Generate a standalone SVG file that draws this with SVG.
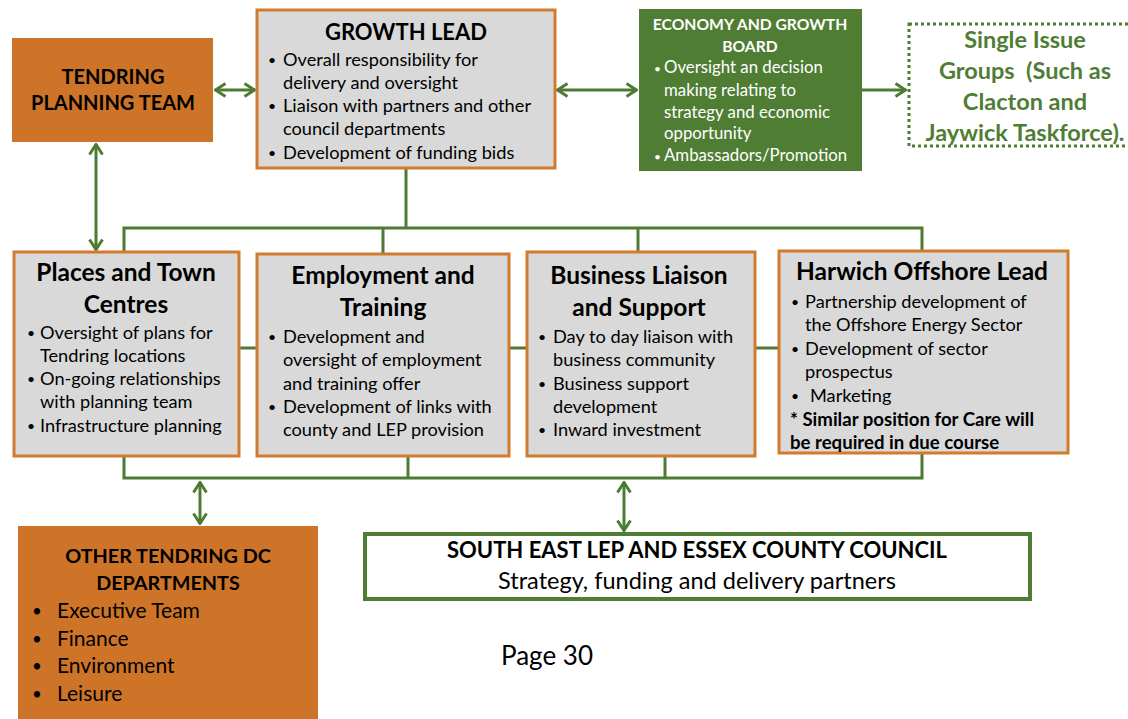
<svg xmlns="http://www.w3.org/2000/svg" width="1128" height="719" viewBox="0 0 1128 719">
  <defs>
    <style>
      text { font-family: Lato, "Open Sans", "Liberation Sans", sans-serif; fill: #000; }
      .hd { font-weight: bold; font-size: 24.5px; text-anchor: middle; }
      .b { font-size: 18.2px; }
      .dot { font-size: 14px; }
      .orange { fill: #CD7428; }
      .grey { fill: #D9D9D9; stroke: #D27A2D; stroke-width: 3; }
      .link { fill: none; stroke: #4E7B33; stroke-width: 3; }
      .wt { fill: #FFFFFF; }
      .gt { fill: #4F7D34; }
    </style>
    <marker id="arr" viewBox="0 0 13 16" refX="12" refY="8" markerWidth="13" markerHeight="16" markerUnits="userSpaceOnUse" orient="auto-start-reverse">
      <path d="M1.5,1.5 L11.5,8 L1.5,14.5" fill="none" stroke="#4E7B33" stroke-width="3" stroke-linejoin="miter"/>
    </marker>
  </defs>

  <!-- connectors -->
  <g id="connectors" class="link">
    <line x1="215" y1="90" x2="255" y2="90" marker-start="url(#arr)" marker-end="url(#arr)"/>
    <line x1="557" y1="90" x2="637" y2="90" marker-start="url(#arr)" marker-end="url(#arr)"/>
    <line x1="862" y1="90" x2="906" y2="90" marker-end="url(#arr)"/>
    <line x1="96" y1="144" x2="96" y2="250" marker-start="url(#arr)" marker-end="url(#arr)"/>
    <!-- upper bus -->
    <line x1="406" y1="168" x2="406" y2="228"/>
    <polyline points="124,252 124,228 922,228 922,250"/>
    <line x1="383" y1="228" x2="383" y2="253"/>
    <line x1="638" y1="228" x2="638" y2="252"/>
    <!-- side links -->
    <line x1="239" y1="348" x2="257" y2="348"/>
    <line x1="509" y1="348" x2="527" y2="348"/>
    <line x1="755" y1="348" x2="779" y2="348"/>
    <!-- lower bus -->
    <polyline points="124,456 124,478 922,478 922,453"/>
    <line x1="408" y1="456" x2="408" y2="478"/>
    <line x1="665" y1="456" x2="665" y2="478"/>
    <line x1="200" y1="482" x2="200" y2="524" marker-start="url(#arr)" marker-end="url(#arr)"/>
    <line x1="624" y1="482" x2="624" y2="531" marker-start="url(#arr)" marker-end="url(#arr)"/>
  </g>

  <!-- Tendring planning team -->
  <g id="tendring-planning">
    <rect x="12" y="38" width="201" height="104" class="orange"/>
    <text class="hd" x="113" y="84" style="font-size:20px">TENDRING</text>
    <text class="hd" x="113" y="110" style="font-size:20px">PLANNING TEAM</text>
  </g>

  <!-- Growth lead -->
  <g id="growth-lead">
    <rect x="257" y="10" width="298" height="158" class="grey"/>
    <text class="hd" x="406" y="40" style="font-size:22px">GROWTH LEAD</text>
    <text class="dot" x="268" y="65">•</text><text class="b" x="283" y="66">Overall responsibility for</text>
    <text class="b" x="283" y="89">delivery and oversight</text>
    <text class="dot" x="268" y="111">•</text><text class="b" x="283" y="112">Liaison with partners and other</text>
    <text class="b" x="283" y="135">council departments</text>
    <text class="dot" x="268" y="158">•</text><text class="b" x="283" y="159">Development of funding bids</text>
  </g>

  <!-- Economy and growth board -->
  <g id="economy-board">
    <rect x="639" y="9" width="223" height="162" fill="#4F7D34"/>
    <text class="hd wt" x="750" y="30" style="font-size:15.7px">ECONOMY AND GROWTH</text>
    <text class="hd wt" x="750" y="52" style="font-size:15.7px">BOARD</text>
    <g style="font-size:16.8px">
      <text class="wt" x="654" y="73" style="font-size:12px">•</text><text class="wt" x="664" y="73">Oversight an decision</text>
      <text class="wt" x="664" y="96">making relating to</text>
      <text class="wt" x="664" y="118">strategy and economic</text>
      <text class="wt" x="664" y="139">opportunity</text>
      <text class="wt" x="654" y="161" style="font-size:12px">•</text><text class="wt" x="664" y="161">Ambassadors/Promotion</text>
    </g>
  </g>

  <!-- Single issue groups -->
  <g id="single-issue">
    <rect x="909" y="24" width="230" height="122" fill="#FFFFFF" stroke="#4F7D34" stroke-width="3" stroke-dasharray="3 3"/>
    <g class="hd" style="font-size:23.5px">
      <text class="gt" x="1025" y="48">Single Issue</text>
      <text class="gt" x="1025" y="79">Groups &#160;(Such as</text>
      <text class="gt" x="1025" y="110">Clacton and</text>
      <text class="gt" x="1025" y="141">Jaywick Taskforce).</text>
    </g>
  </g>

  <!-- Places and town centres -->
  <g id="places">
    <rect x="14" y="252" width="225" height="204" class="grey"/>
    <text class="hd" x="126" y="281">Places and Town</text>
    <text class="hd" x="126" y="313">Centres</text>
    <text class="dot" x="27" y="338">•</text><text class="b" x="40" y="339">Oversight of plans for</text>
    <text class="b" x="40" y="362">Tendring locations</text>
    <text class="dot" x="27" y="384">•</text><text class="b" x="40" y="385">On-going relationships</text>
    <text class="b" x="40" y="408">with planning team</text>
    <text class="dot" x="27" y="431">•</text><text class="b" x="40" y="432">Infrastructure planning</text>
  </g>

  <!-- Employment and training -->
  <g id="employment">
    <rect x="257" y="254" width="252" height="202" class="grey"/>
    <text class="hd" x="383" y="284">Employment and</text>
    <text class="hd" x="383" y="316">Training</text>
    <text class="dot" x="268" y="342">•</text><text class="b" x="283" y="343">Development and</text>
    <text class="b" x="283" y="366">oversight of employment</text>
    <text class="b" x="283" y="390">and training offer</text>
    <text class="dot" x="268" y="412">•</text><text class="b" x="283" y="413">Development of links with</text>
    <text class="b" x="283" y="436">county and LEP provision</text>
  </g>

  <!-- Business liaison and support -->
  <g id="business">
    <rect x="527" y="252" width="228" height="204" class="grey"/>
    <text class="hd" x="639" y="284">Business Liaison</text>
    <text class="hd" x="639" y="316">and Support</text>
    <text class="dot" x="538" y="342">•</text><text class="b" x="553" y="343">Day to day liaison with</text>
    <text class="b" x="553" y="366">business community</text>
    <text class="dot" x="538" y="389">•</text><text class="b" x="553" y="390">Business support</text>
    <text class="b" x="553" y="413">development</text>
    <text class="dot" x="538" y="435">•</text><text class="b" x="553" y="436">Inward investment</text>
  </g>

  <!-- Harwich offshore lead -->
  <g id="harwich">
    <rect x="779" y="251" width="289" height="202" class="grey"/>
    <text class="hd" x="922" y="280">Harwich Offshore Lead</text>
    <text class="dot" x="791" y="307">•</text><text class="b" x="805" y="308">Partnership development of</text>
    <text class="b" x="805" y="331">the Offshore Energy Sector</text>
    <text class="dot" x="791" y="354">•</text><text class="b" x="805" y="355">Development of sector</text>
    <text class="b" x="805" y="378">prospectus</text>
    <text class="dot" x="791" y="401">•</text><text class="b" x="810" y="402">Marketing</text>
    <text class="b" x="790" y="426" font-weight="bold" style="font-size:18.6px">* Similar position for Care will</text>
    <text class="b" x="790" y="449" font-weight="bold" style="font-size:18.6px">be required in due course</text>
  </g>

  <!-- Other Tendring DC departments -->
  <g id="other-departments">
    <rect x="18" y="526" width="300" height="200" class="orange"/>
    <text class="hd" x="168" y="563" style="font-size:19.8px">OTHER TENDRING DC</text>
    <text class="hd" x="168" y="590" style="font-size:19.8px">DEPARTMENTS</text>
    <g style="font-size:21px">
      <text x="32" y="617" style="font-size:17px">•</text><text x="57" y="618">Executive Team</text>
      <text x="32" y="645" style="font-size:17px">•</text><text x="57" y="646">Finance</text>
      <text x="32" y="672" style="font-size:17px">•</text><text x="57" y="673">Environment</text>
      <text x="32" y="700" style="font-size:17px">•</text><text x="57" y="701">Leisure</text>
    </g>
  </g>

  <!-- South East LEP and Essex County Council -->
  <g id="south-east-lep">
    <rect x="365" y="534" width="665" height="65" fill="#FFFFFF" stroke="#4F7D34" stroke-width="4"/>
    <text class="hd" x="697" y="558" style="font-size:22px">SOUTH EAST LEP AND ESSEX COUNTY COUNCIL</text>
    <text x="697" y="589" text-anchor="middle" style="font-size:23.5px">Strategy, funding and delivery partners</text>
  </g>

  <!-- page number -->
  <text x="501" y="665" style="font-size:26px">Page 30</text>
</svg>
